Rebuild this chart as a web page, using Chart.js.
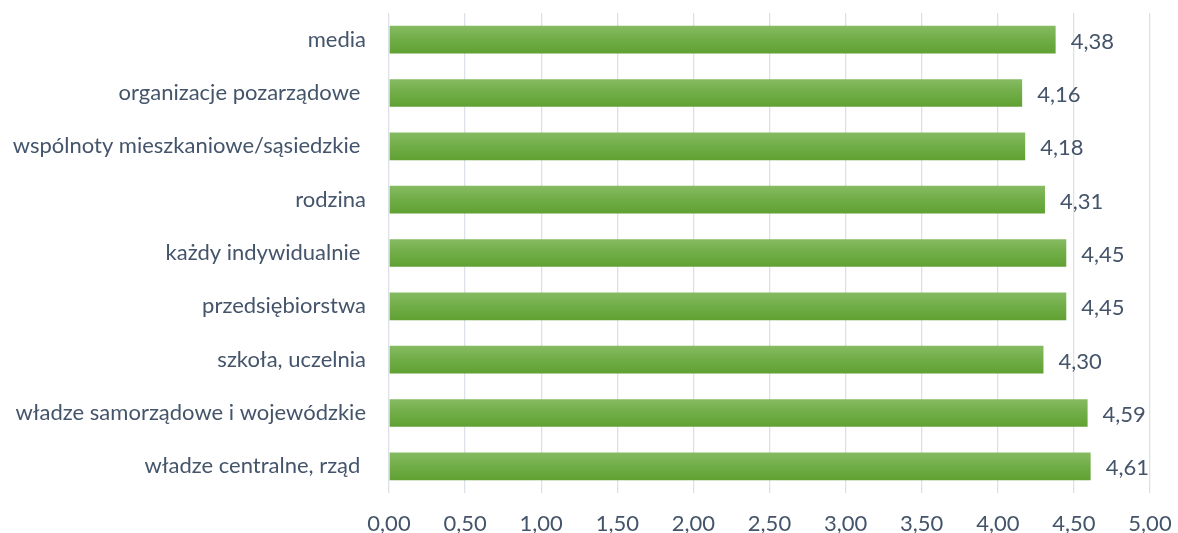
<!DOCTYPE html>
<html lang="pl">
<head>
<meta charset="utf-8">
<title>Wykres</title>
<script src="https://cdn.jsdelivr.net/npm/chart.js@4.4.1/dist/chart.umd.min.js"></script>
<style>
  html, body { margin: 0; padding: 0; background: #ffffff; }
  #wrap { width: 1178px; height: 533px; }
</style>
</head>
<body>
<div id="wrap"><canvas id="chart" width="1178" height="533"></canvas></div>
<script>
// Categories, top to bottom
const categories = [
  'media',
  'organizacje pozarządowe ',
  'wspólnoty mieszkaniowe/sąsiedzkie ',
  'rodzina',
  'każdy indywidualnie ',
  'przedsiębiorstwa',
  'szkoła, uczelnia',
  'władze samorządowe i wojewódzkie',
  'władze centralne, rząd '
];
// Mean ratings
const values = [4.38, 4.16, 4.18, 4.31, 4.45, 4.45, 4.30, 4.59, 4.61];
// Value axis range and step
const axisMin = 0;
const axisMax = 5;
const axisStep = 0.5;

const FONT = 'Lato, "Open Sans", sans-serif';
const TEXT = '#44546A';
const BAR_PCT = 0.52;

const fmt = v => Number(v).toFixed(2).replace('.', ',');

// Vertical green gradient per bar
function barFill(ctx) {
  const chart = ctx.chart;
  const area = chart.chartArea;
  if (!area || ctx.type !== 'data') return '#70AD47';
  const yScale = chart.scales.y;
  const yc = yScale.getPixelForValue(ctx.dataIndex);
  const half = (area.bottom - area.top) / categories.length * BAR_PCT / 2;
  const g = chart.ctx.createLinearGradient(0, yc - half, 0, yc + half);
  g.addColorStop(0, '#86BB62');
  g.addColorStop(0.5, '#70AD47');
  g.addColorStop(1, '#60A132');
  return g;
}

// Value labels to the right of each bar
const valueLabels = {
  id: 'valueLabels',
  afterDatasetsDraw(chart) {
    const c = chart.ctx;
    const meta = chart.getDatasetMeta(0);
    c.save();
    c.font = '22px ' + FONT;
    c.fillStyle = TEXT;
    c.textAlign = 'left';
    c.textBaseline = 'middle';
    meta.data.forEach((bar, i) => {
      c.fillText(fmt(values[i]), bar.x + 15, bar.y + 2);
    });
    c.restore();
  }
};

new Chart(document.getElementById('chart'), {
  type: 'bar',
  data: {
    labels: categories,
    datasets: [{
      data: values,
      backgroundColor: barFill,
      borderWidth: 0,
      barPercentage: BAR_PCT,
      categoryPercentage: 1
    }]
  },
  options: {
    indexAxis: 'y',
    responsive: false,
    animation: false,
    layout: { padding: { top: 13, right: 28, bottom: 0, left: 0 } },
    plugins: {
      legend: { display: false },
      tooltip: { enabled: false }
    },
    scales: {
      x: {
        min: axisMin,
        max: axisMax,
        grid: { color: '#DCE0E8', lineWidth: 1.3, drawTicks: false },
        border: { display: false },
        ticks: {
          stepSize: axisStep,
          padding: 18,
          color: TEXT,
          font: { family: FONT, size: 22 },
          callback: v => fmt(v)
        },
        afterFit(scale) {
          scale.height = 40;
          scale.paddingLeft = 0;
          scale.paddingRight = 0;
        }
      },
      y: {
        grid: { display: false, drawTicks: false },
        border: { display: false },
        ticks: {
          padding: 23,
          color: TEXT,
          font: { family: FONT, size: 22 }
        },
        afterFit(scale) {
          scale.width = 389;
          scale.paddingTop = 0;
          scale.paddingBottom = 0;
        }
      }
    }
  },
  plugins: [valueLabels]
});
</script>
</body>
</html>
